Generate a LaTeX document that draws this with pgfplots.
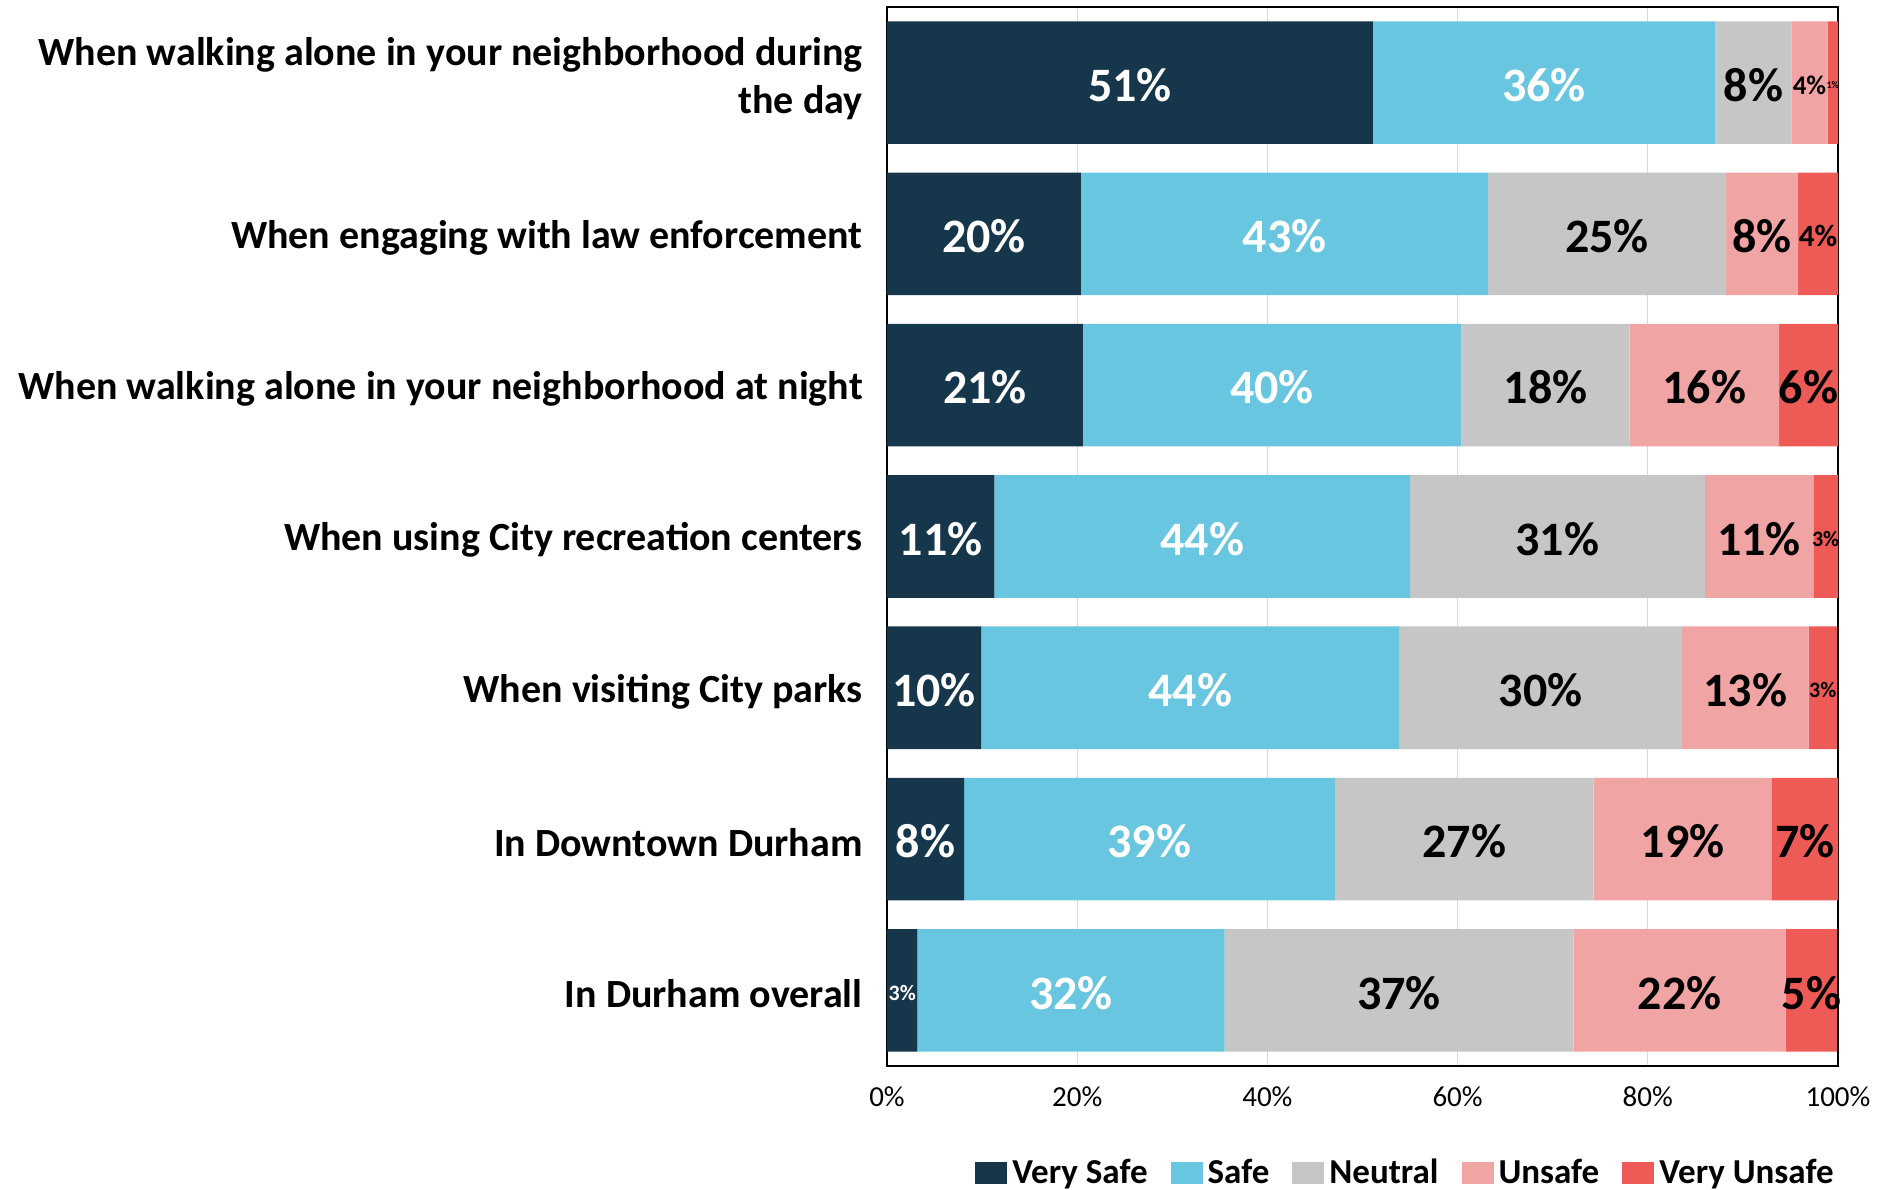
\documentclass[border=0pt]{standalone}
\usepackage{fontspec}
\setmainfont{Carlito}
\usepackage{pgfplots}
\pgfplotsset{compat=1.18}

\definecolor{vsafe}{RGB}{22,54,75}
\definecolor{safe}{RGB}{104,198,224}
\definecolor{neutral}{RGB}{198,198,198}
\definecolor{unsafe}{RGB}{241,164,164}
\definecolor{vunsafe}{RGB}{238,90,86}

% smaller label sizes for the narrow segments
\protected\def\lblA{\fontsize{15.5}{16}\selectfont}
\protected\def\lblB{\fontsize{13.5}{14}\selectfont}
\protected\def\lblC{\fontsize{11}{12}\selectfont}
\protected\def\lblD{\fontsize{5}{6}\selectfont}

\begin{document}
\begin{tikzpicture}
\begin{axis}[
    xbar stacked,
    scale only axis,
    width=475.5pt, height=529.5pt,
    xmin=0, xmax=100,
    ymin=-0.5, ymax=6.5,
    bar width=0.81,
    axis line style={black, line width=0.8pt},
    major tick length=0pt,
    xmajorgrids,
    grid style={black!15, line width=0.5pt},
    xtick={0,20,...,100},
    xticklabel={\pgfmathprintnumber{\tick}\%},
    /pgf/number format/assume math mode=true,
    xticklabel style={font=\fontsize{14.5}{16}\selectfont, yshift=-7pt},
    ytick={0,...,5},
    yticklabels={In Durham overall, In Downtown Durham, When visiting City parks,
        When using City recreation centers,
        When walking alone in your neighborhood at night,
        When engaging with law enforcement},
    extra y ticks={6},
    extra y tick labels={{When walking alone in your neighborhood during\\the day}},
    extra y tick style={yticklabel style={yshift=3.6pt}},
    yticklabel style={font=\fontsize{20}{24}\selectfont\bfseries, align=right,
        inner sep=0pt, xshift=-12pt, yshift=-1.8pt},
    point meta=explicit symbolic,
    nodes near coords,
    nodes near coords style={font=\fontsize{24}{26}\selectfont\bfseries,
        anchor=center, yshift=-1.2pt},
    legend columns=5,
    legend image code/.code={\fill[#1] (0pt,-5.5pt) rectangle (16pt,5.5pt);},
    legend style={draw=none, inner sep=0pt, at={(0.999,-0.1006)}, anchor=east,
        font=\fontsize{17.5}{19}\selectfont\bfseries,
        nodes={inner sep=1.5pt},
        /tikz/every odd column/.append style={column sep=1pt},
        /tikz/every even column/.append style={column sep=10pt}},
]
\addplot[fill=vsafe, draw=none, every node near coord/.append style={text=white}] coordinates {
    (3.2,0) [\lblC 3\%] (8.1,1) [8\%] (9.9,2) [10\%] (11.3,3) [11\%]
    (20.6,4) [21\%] (20.4,5) [20\%] (51.1,6) [51\%]};
\addplot[fill=safe, draw=none, every node near coord/.append style={text=white}] coordinates {
    (32.3,0) [32\%] (39.0,1) [39\%] (44.0,2) [44\%] (43.7,3) [44\%]
    (39.8,4) [40\%] (42.8,5) [43\%] (36.0,6) [36\%]};
\addplot[fill=neutral, draw=none, every node near coord/.append style={text=black}] coordinates {
    (36.7,0) [37\%] (27.2,1) [27\%] (29.7,2) [30\%] (31.0,3) [31\%]
    (17.7,4) [18\%] (25.0,5) [25\%] (8.0,6) [8\%]};
\addplot[fill=unsafe, draw=none, every node near coord/.append style={text=black}] coordinates {
    (22.3,0) [22\%] (18.7,1) [19\%] (13.3,2) [13\%] (11.4,3) [11\%]
    (15.7,4) [16\%] (7.6,5) [8\%] (3.8,6) [\lblB 4\%]};
\addplot[fill=vunsafe, draw=none, every node near coord/.append style={text=black}] coordinates {
    (5.4,0) [5\%] (7.0,1) [7\%] (3.0,2) [\lblC 3\%] (2.6,3) [\lblC 3\%]
    (6.2,4) [6\%] (4.2,5) [\lblA 4\%] (1.1,6) [\lblD 1\%]};
\legend{Very Safe, Safe, Neutral, Unsafe, Very Unsafe}
\end{axis}
\pgfresetboundingbox
\path ([shift={(-443.5pt,-62pt)}]current axis.south west)
    rectangle ([shift={(25.5pt,3.5pt)}]current axis.north east);
\end{tikzpicture}
\end{document}
